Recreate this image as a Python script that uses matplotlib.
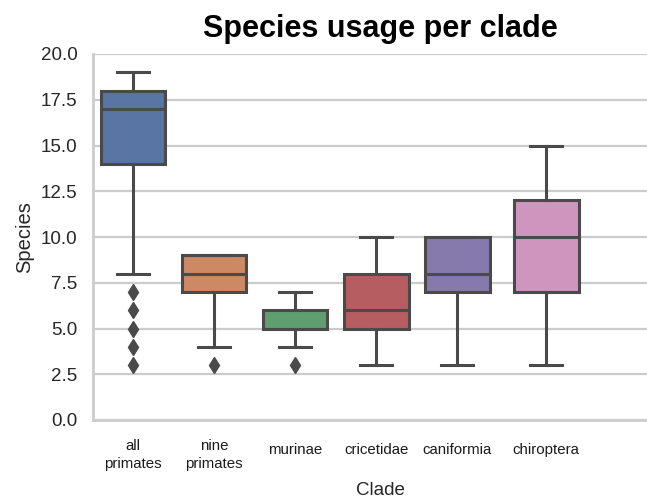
import colorsys
import matplotlib
matplotlib.use("Agg")
import matplotlib.pyplot as plt
import matplotlib.colors as mcolors
import matplotlib.transforms as mtransforms

# Box stats
clades = ["all\nprimates", "nine\nprimates", "murinae", "cricetidae", "caniformia", "chiroptera"]
whislo = [8, 4, 4, 3, 3, 3]
q1 = [14, 7, 5, 5, 7, 7]
med = [17, 8, 5, 6, 8, 10]
q3 = [18, 9, 6, 8, 10, 12]
whishi = [19, 9, 7, 10, 10, 15]
fliers = [[7, 6, 5, 4, 3], [3], [3], [], [], []]

deep = ["#4C72B0", "#DD8452", "#55A868", "#C44E52", "#8172B3", "#DA8BC3"]


def desaturate(c, prop=0.75):
    h, l, s = colorsys.rgb_to_hls(*mcolors.to_rgb(c))
    return colorsys.hls_to_rgb(h, l, s * prop)


plt.rcParams["font.family"] = ["Liberation Sans", "DejaVu Sans"]

fig = plt.figure(figsize=(6.47, 5.03), dpi=100)
ax = fig.add_axes([93 / 647, 83 / 503, 574 / 647, 366 / 503])

stats = []
for i in range(len(clades)):
    stats.append(dict(whislo=whislo[i], q1=q1[i], med=med[i], q3=q3[i],
                      whishi=whishi[i], fliers=fliers[i]))

positions = [0, 1, 2, 3, 4, 5.1]
line_col = "#4a4a4a"
lw = 2.2
bp = ax.bxp(stats, positions=positions, widths=0.8, capwidths=0.4,
            patch_artist=True, showfliers=True,
            boxprops=dict(edgecolor=line_col, linewidth=lw),
            medianprops=dict(color=line_col, linewidth=lw),
            whiskerprops=dict(color=line_col, linewidth=lw),
            capprops=dict(color=line_col, linewidth=lw),
            flierprops=dict(marker="d", markerfacecolor=line_col,
                            markeredgecolor=line_col, markersize=8.5))
for patch, c in zip(bp["boxes"], deep):
    patch.set_facecolor(desaturate(c))
    patch.set_zorder(2)

ax.set_xlim(-0.494, 6.59)
ax.set_ylim(0, 20)
ax.set_yticks([0, 2.5, 5, 7.5, 10, 12.5, 15, 17.5, 20])
ax.set_yticklabels(["0.0", "2.5", "5.0", "7.5", "10.0", "12.5", "15.0", "17.5", "20.0"])
ax.set_xticks(positions)
ax.set_xticklabels(clades, fontsize=10.8, color="#1a1a1a", linespacing=1.3)
ax.tick_params(axis="y", length=0, pad=11, labelsize=13.5, labelcolor="#262626")
ax.tick_params(axis="x", length=0, pad=14)

# single-line labels sit a little lower in the original
shift = mtransforms.ScaledTranslation(0, -4 / 100, fig.dpi_scale_trans)
for lab in ax.get_xticklabels():
    if "\n" not in lab.get_text():
        lab.set_transform(lab.get_transform() + shift)

ax.yaxis.grid(True, color="#cccccc", linewidth=1.6)
ax.xaxis.grid(False)
ax.set_axisbelow(True)
for side, sp in ax.spines.items():
    sp.set_color("#cccccc")
    sp.set_linewidth(2)
ax.spines["top"].set_visible(False)

ax.set_xlabel("Clade", fontsize=13.5, color="#262626", labelpad=8)
ax.set_ylabel("Species", fontsize=14.5, color="#262626", labelpad=5)
ax.set_title("Species usage per clade", fontsize=22, fontweight="bold", pad=12)

fig.savefig("out.png", dpi=100)
